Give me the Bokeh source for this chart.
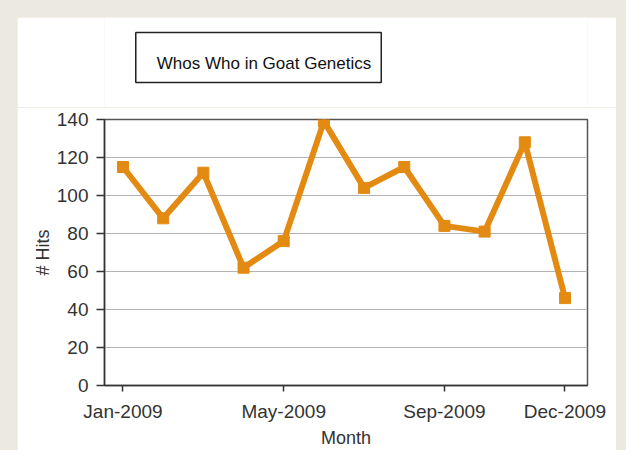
from bokeh.plotting import figure
from bokeh.models import Range1d, FixedTicker, Label, ColumnDataSource
from bokeh.layouts import column
from bokeh.embed import file_html
from bokeh.resources import INLINE

# ---- data ----
months = ["Jan-2009", "Feb-2009", "Mar-2009", "Apr-2009", "May-2009", "Jun-2009",
          "Jul-2009", "Aug-2009", "Sep-2009", "Oct-2009", "Nov-2009", "Dec-2009"]
hits = [115, 88, 112, 62, 76, 139, 104, 115, 84, 81, 128, 46]
x_tick_months = ["Jan-2009", "May-2009", "Sep-2009", "Dec-2009"]
y_ticks = [0, 20, 40, 60, 80, 100, 120, 140]
title_text = "Whos Who in Goat Genetics"
x_label = "Month"
y_label = "# Hits"

idx = list(range(len(months)))
src = ColumnDataSource(dict(x=idx, y=hits, month=months))

FONT = "Liberation Sans"
ORANGE = "#E38A12"
BEIGE = "#ECE9E1"

# ---- title strip (a plain figure whose frame is the white area above the chart) ----
TW, TH = 599, 90
tfig = figure(output_backend="svg", toolbar_location=None, width=TW, height=TH,
              x_range=Range1d(0, TW), y_range=Range1d(0, TH),
              x_axis_location=None, y_axis_location=None,
              min_border=0, background_fill_color="white", border_fill_color="white",
              margin=(17, 10, 0, 17))
tfig.grid.visible = False
tfig.outline_line_color = None

TX, TY = 191, 50
shadow = Label(x=TX, y=TY, x_offset=5, y_offset=-5,
               text=title_text, text_font=FONT, text_font_size="17px",
               text_align="center", text_baseline="middle", text_alpha=0,
               background_fill_color="#7a7a7a", background_fill_alpha=0.35,
               padding=(21, 10, 21, 10))
title = Label(x=TX, y=TY,
              text=title_text, text_font=FONT, text_font_size="17px", text_color="#111111",
              text_align="center", text_baseline="middle",
              background_fill_color="white", border_line_color="#222222", border_line_width=1.5,
              padding=(21, 10, 21, 10))
tfig.add_layout(shadow)
tfig.add_layout(title)

# ---- main chart ----
p = figure(output_backend="svg", toolbar_location=None,
           frame_width=483, frame_height=267,
           min_border_left=87, min_border_right=29, min_border_top=12, min_border_bottom=64,
           x_range=Range1d(-0.46, 11.56), y_range=Range1d(0, 140),
           background_fill_color="white", border_fill_color="white",
           margin=(0, 10, 0, 17))

p.outline_line_color = "#555555"
p.outline_line_width = 1.5

p.line("x", "y", source=src, line_color=ORANGE, line_width=6, line_join="round")
p.scatter("x", "y", source=src, marker="square", size=11, fill_color=ORANGE, line_color=ORANGE)

# x axis
tick_pos = [months.index(m) for m in x_tick_months]
p.xaxis.ticker = FixedTicker(ticks=tick_pos)
p.xaxis.major_label_overrides = {i: months[i] for i in tick_pos}
p.xaxis.minor_tick_line_color = None
p.xaxis.major_tick_in = 0
p.xaxis.major_tick_out = 6
p.xaxis.major_label_standoff = 9
p.xaxis.axis_label = x_label
p.xaxis.axis_label_standoff = 3

# y axis
p.yaxis.ticker = FixedTicker(ticks=y_ticks)
p.yaxis.minor_tick_line_color = None
p.yaxis.major_tick_in = 0
p.yaxis.major_tick_out = 8
p.yaxis.major_label_standoff = 8
p.yaxis.axis_label = y_label
p.yaxis.axis_label_standoff = 1

for ax in (p.xaxis, p.yaxis):
    ax.axis_line_color = "#333333"
    ax.axis_line_width = 1.5
    ax.major_tick_line_color = "#333333"
    ax.major_tick_line_width = 1.5
    ax.major_label_text_font = FONT
    ax.major_label_text_font_size = "19px"
    ax.major_label_text_color = "#333333"
    ax.axis_label_text_font = FONT
    ax.axis_label_text_font_size = "18px"
    ax.axis_label_text_font_style = "normal"
    ax.axis_label_text_color = "#333333"

p.xgrid.grid_line_color = None
p.ygrid.grid_line_color = "#B4B4B4"
p.ygrid.grid_line_width = 1.2

layout = column(tfig, p, spacing=0, styles={"background-color": BEIGE}, width=626, height=450)

open("out.html", "w").write(file_html(layout, INLINE))
